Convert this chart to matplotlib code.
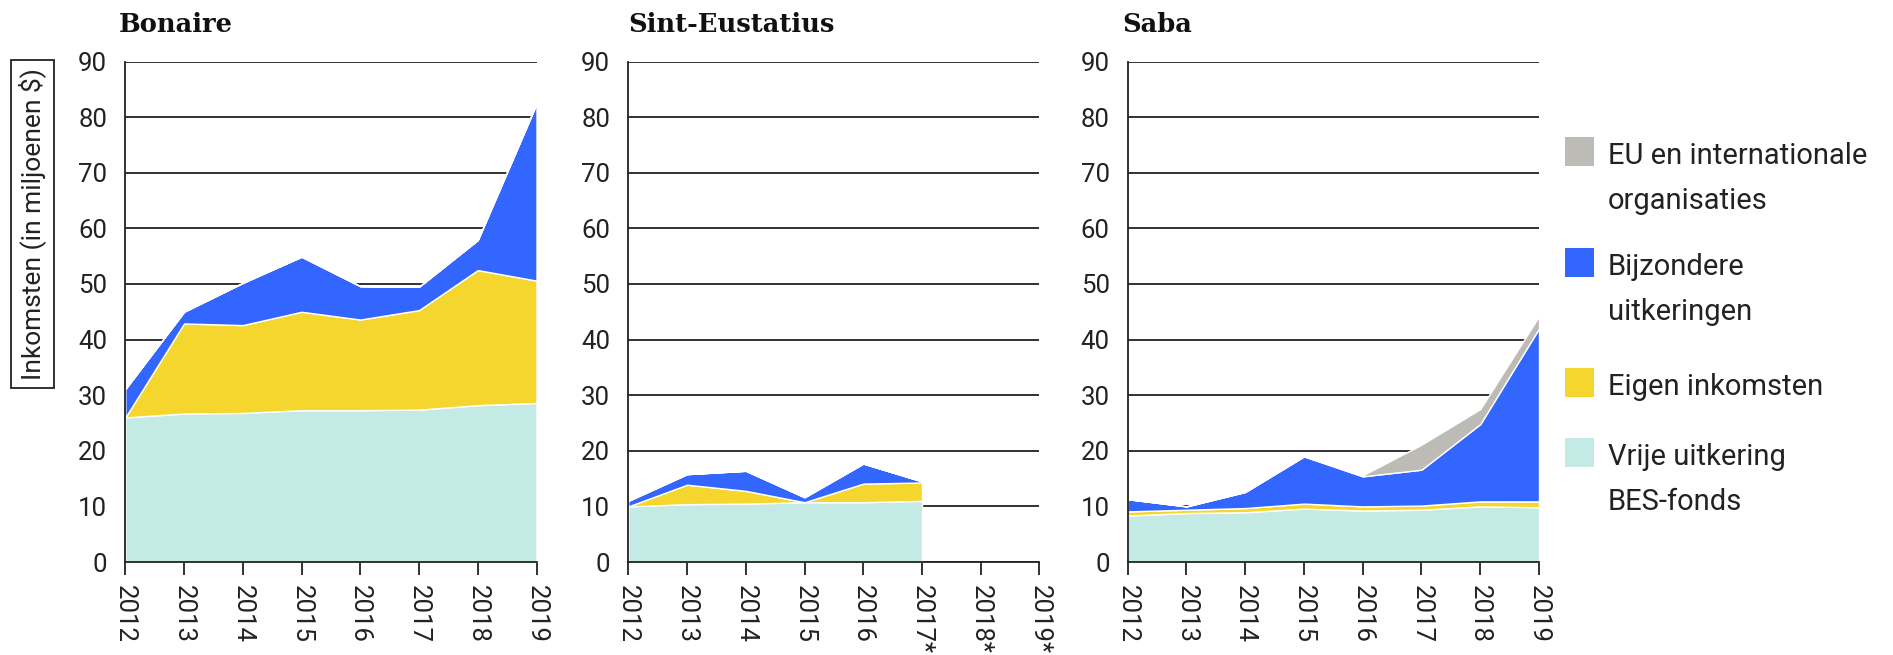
import matplotlib.pyplot as plt
from matplotlib.patches import Rectangle

# Data (in miljoenen $)
years = ["2012", "2013", "2014", "2015", "2016", "2017", "2018", "2019"]
years_sint = ["2012", "2013", "2014", "2015", "2016", "2017*", "2018*", "2019*"]

labels = ["Vrije uitkering\nBES-fonds", "Eigen inkomsten",
          "Bijzondere\nuitkeringen", "EU en internationale\norganisaties"]
colors = ["#c4eae5", "#f5d62e", "#3366ff", "#bdbbb5"]

bon_vrije = [26.0, 26.7, 26.8, 27.3, 27.3, 27.4, 28.2, 28.6]
bon_eigen = [0.0, 16.2, 15.8, 17.7, 16.3, 17.9, 24.3, 22.0]
bon_bijz = [5.1, 2.1, 7.6, 9.9, 6.0, 4.2, 5.4, 31.8]
bon_eu = [0, 0, 0, 0, 0, 0, 0, 0]

# Sint-Eustatius: only 2012 - 2017*
sint_vrije = [10.0, 10.4, 10.5, 10.75, 10.75, 11.0]
sint_eigen = [0.0, 3.5, 2.3, 0.0, 3.35, 3.3]
sint_bijz = [1.0, 1.9, 3.6, 0.9, 3.6, 0.2]
sint_eu = [0, 0, 0, 0, 0, 0]

saba_vrije = [8.35, 8.8, 8.95, 9.6, 9.25, 9.4, 10.0, 9.85]
saba_eigen = [0.75, 0.6, 0.75, 0.9, 0.75, 0.75, 0.9, 1.05]
saba_bijz = [2.2, 0.6, 2.9, 8.5, 5.4, 6.45, 13.9, 31.1]
saba_eu = [0, 0, 0, 0, 0.2, 4.5, 2.7, 2.2]

W, H = 1893, 655
plt.rcParams['font.family'] = ['Roboto', 'DejaVu Sans']
fig = plt.figure(figsize=(W / 100, H / 100), dpi=100)


def make_axes(left, right, top=61.5, bottom=562):
    return fig.add_axes([left / W, 1 - bottom / H, (right - left) / W, (bottom - top) / H])


panels = [
    ("Bonaire", make_axes(125.3, 536.5), years, [bon_vrije, bon_eigen, bon_bijz, bon_eu], 119),
    ("Sint-Eustatius", make_axes(628.3, 1039.5), years_sint, [sint_vrije, sint_eigen, sint_bijz, sint_eu], 628),
    ("Saba", make_axes(1127.7, 1539), years, [saba_vrije, saba_eigen, saba_bijz, saba_eu], 1122),
]

for title, ax, ticklabels, vals, tx in panels:
    x = list(range(len(vals[0])))
    ax.stackplot(x, vals, colors=colors, edgecolor="white", linewidth=1.0)
    ax.set_xlim(0, len(ticklabels) - 1)
    ax.set_ylim(0, 90)
    ax.set_yticks(range(0, 91, 10))
    ax.set_xticks(range(len(ticklabels)))
    ax.set_xticklabels(ticklabels, rotation=-90)
    ax.set_axisbelow(True)
    ax.grid(axis="y", color="#222222", linewidth=1.3)
    for s in ["top", "right"]:
        ax.spines[s].set_visible(False)
    for s in ["left", "bottom"]:
        ax.spines[s].set_color("#222222")
        ax.spines[s].set_linewidth(1.3)
    ax.tick_params(axis="y", length=0, pad=13, labelsize=18.5, labelcolor="#222222")
    ax.tick_params(axis="x", length=9.5, width=1.3, color="#222222", pad=7,
                   labelsize=18.5, labelcolor="#222222")
    fig.text(tx / W, 1 - 32 / H, title, family="DejaVu Serif", weight="bold",
             fontsize=18.5, va="baseline", ha="left", color="#111111")

# y-axis label in a box
fig.text(32.5 / W, 1 - 224 / H, "Inkomsten (in miljoenen $)", rotation=90,
         ha="center", va="center", fontsize=19, color="#222222",
         bbox=dict(boxstyle="square,pad=0.3", facecolor="white",
                   edgecolor="#222222", linewidth=1.3))

# legend, drawn by hand so the swatch lines up with the first text line
legend_rows = [(3, 164), (2, 275), (1, 395), (0, 465)]
line_pitch = 45
for idx, baseline in legend_rows:
    fig.add_artist(Rectangle((1565 / W, 1 - (baseline + 2) / H), 29 / W, 29 / H,
                             transform=fig.transFigure, facecolor=colors[idx],
                             edgecolor="none"))
    for i, line in enumerate(labels[idx].split("\n")):
        fig.text(1608 / W, 1 - (baseline + i * line_pitch) / H, line, fontsize=21,
                 va="baseline", ha="left", color="#222222")

fig.savefig("out.png", dpi=100)
